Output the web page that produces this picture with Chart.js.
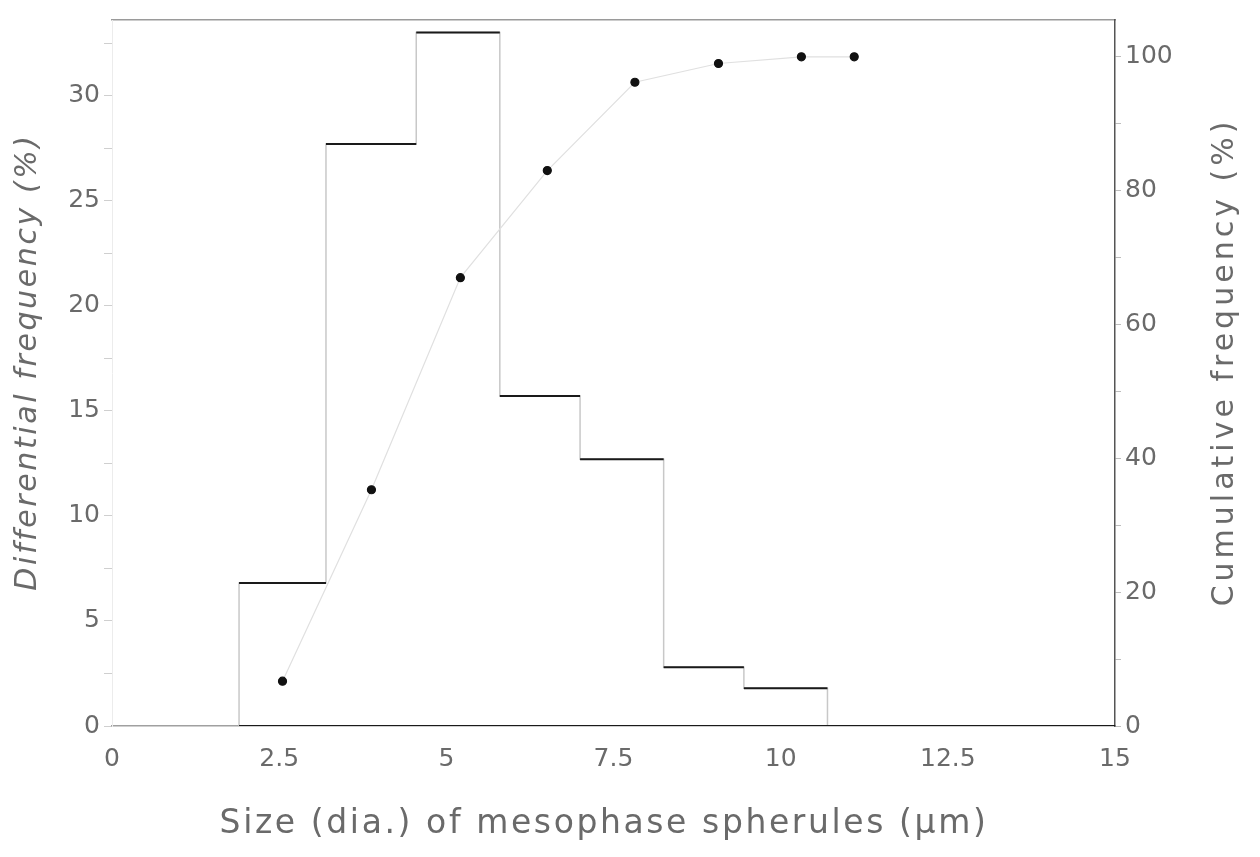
<!DOCTYPE html>
<html>
<head>
<meta charset="utf-8">
<title>Size distribution of mesophase spherules</title>
<script src="https://cdn.jsdelivr.net/npm/chart.js@4.4.1/dist/chart.umd.min.js"></script>
<style>
  html, body { margin: 0; padding: 0; background: #fff; }
  #wrap { width: 1260px; height: 857px; }
</style>
</head>
<body>
<div id="wrap"><canvas id="chart" width="1260" height="857"></canvas></div>
<script>
// =======================
// Data
// =======================

// histogram bin edges, µm
const binEdges = [1.9, 3.2, 4.55, 5.8, 7.0, 8.25, 9.45, 10.7];
// differential frequency per bin, %
const differential = [6.8, 27.7, 33.0, 15.7, 12.7, 2.8, 1.8];

// cumulative frequency points
const cumSize = [2.55, 3.88, 5.21, 6.51, 7.82, 9.07, 10.31, 11.1];
const cumulative = [6.7, 35.3, 67, 83, 96.2, 99, 100, 100];

// axes
const xTicks = [0, 2.5, 5, 7.5, 10, 12.5, 15];
const xTickLabels = ["0", "2.5", "5", "7.5", "10", "12.5", "15"];
const leftTicks = [0, 2.5, 5, 7.5, 10, 12.5, 15, 17.5, 20, 22.5, 25, 27.5, 30, 32.5];
const leftLabelled = [0, 5, 10, 15, 20, 25, 30];
const rightTicks = [0, 10, 20, 30, 40, 50, 60, 70, 80, 90, 100];
const rightLabelled = [0, 20, 40, 60, 80, 100];

const xTitle = "Size (dia.) of mesophase spherules (\u03bcm)";
const leftTitle = "Differential frequency (%)";
const rightTitle = "Cumulative frequency (%)";


// =======================
// Build datasets from the arrays
// =======================

// full outline of the histogram (verticals look faint in the print)
const outline = [{ x: binEdges[0], y: 0 }];
differential.forEach((v, i) => outline.push({ x: binEdges[i], y: v }));
outline.push({ x: binEdges[binEdges.length - 1], y: 0 });

// tops of the bars, drawn dark, broken between bins
const tops = [];
differential.forEach((v, i) => {
  tops.push({ x: binEdges[i], y: v });
  tops.push({ x: binEdges[i + 1], y: v });
  tops.push({ x: binEdges[i + 1], y: null });
});

// solid base line starts where the histogram starts
const baseLine = [{ x: binEdges[0], y: 0 }, { x: xTicks[xTicks.length - 1], y: 0 }];

const cumPoints = cumSize.map((s, i) => ({ x: s, y: cumulative[i] }));


// =======================
// Helpers
// =======================

const FONT = "'DejaVu Sans', 'Liberation Sans', sans-serif";
const TEXT = "#6a6a6a";

function fixTicks(values) {
  return scale => { scale.ticks = values.map(v => ({ value: v })); };
}

function drawTitle(ctx, text, x, y, angle, font, spacing) {
  ctx.save();
  ctx.translate(x, y);
  ctx.rotate(angle);
  ctx.font = font;
  ctx.letterSpacing = spacing + "px";
  ctx.fillStyle = TEXT;
  ctx.textAlign = "center";
  ctx.textBaseline = "middle";
  ctx.fillText(text, 0, 0);
  ctx.restore();
}

// the axis titles are spaced out in the print, so draw them here
const titlesPlugin = {
  id: "axisTitles",
  afterDraw(chart) {
    const ctx = chart.ctx;
    drawTitle(ctx, xTitle, 604, 824, 0, "33px " + FONT, 2.6);
    drawTitle(ctx, leftTitle, 28, 362, -Math.PI / 2, "italic 30px " + FONT, 2.6);
    drawTitle(ctx, rightTitle, 1225, 362, -Math.PI / 2, "30px " + FONT, 4);
  }
};


// =======================
// Chart
// =======================

new Chart(document.getElementById("chart").getContext("2d"), {
  type: "scatter",
  data: {
    datasets: [
      {
        data: outline,
        order: 3,
        showLine: true,
        stepped: true,
        borderColor: "#c8c8c8",
        borderWidth: 1.5,
        pointRadius: 0
      },
      {
        data: tops,
        order: 1,
        showLine: true,
        spanGaps: false,
        borderColor: "#1a1a1a",
        borderWidth: 2,
        pointRadius: 0
      },
      {
        data: baseLine,
        order: 1,
        showLine: true,
        borderColor: "#1a1a1a",
        borderWidth: 2,
        pointRadius: 0
      },
      {
        data: cumPoints,
        order: 0,
        yAxisID: "y2",
        showLine: true,
        borderColor: "#e0e0e0",
        borderWidth: 1.2,
        pointRadius: 4,
        pointBackgroundColor: "#111",
        pointBorderColor: "#111"
      }
    ]
  },
  options: {
    responsive: false,
    animation: false,
    layout: { padding: { bottom: 81 } },
    plugins: { legend: { display: false }, tooltip: { enabled: false } },
    scales: {
      x: {
        type: "linear",
        min: 0,
        max: 15,
        afterBuildTicks: fixTicks(xTicks),
        afterFit: s => { s.height = 50; },
        grid: { drawOnChartArea: false, drawTicks: false },
        border: { color: "#a0a0a0", width: 1.5, dash: [14, 6] },
        ticks: {
          padding: 18,
          color: TEXT,
          font: { family: FONT, size: 25 },
          callback: v => xTickLabels[xTicks.indexOf(v)]
        }
      },
      xTop: {
        type: "linear",
        position: "top",
        min: 0,
        max: 15,
        afterFit: s => { s.height = 20; },
        grid: { drawOnChartArea: false, drawTicks: false },
        border: { color: "#9a9a9a", width: 1.5, dash: [40, 8] },
        ticks: { display: false }
      },
      y: {
        position: "left",
        min: 0,
        max: 33.6,
        afterBuildTicks: fixTicks(leftTicks),
        afterFit: s => { s.width = 112; },
        grid: { drawOnChartArea: false, tickLength: 8, color: "#cfcfcf" },
        border: { color: "#ececec", width: 1 },
        ticks: {
          padding: 4,
          color: TEXT,
          font: { family: FONT, size: 25 },
          callback: v => (leftLabelled.includes(v) ? String(v) : "")
        }
      },
      y2: {
        position: "right",
        min: 0,
        max: 105.5,
        afterBuildTicks: fixTicks(rightTicks),
        afterFit: s => { s.width = 145; },
        grid: { drawOnChartArea: false, tickLength: 6, color: "#bdbdbd" },
        border: { color: "#555", width: 1.5 },
        ticks: {
          padding: 4,
          color: TEXT,
          font: { family: FONT, size: 25 },
          callback: v => (rightLabelled.includes(v) ? String(v) : "")
        }
      }
    }
  },
  plugins: [titlesPlugin]
});
</script>
</body>
</html>
